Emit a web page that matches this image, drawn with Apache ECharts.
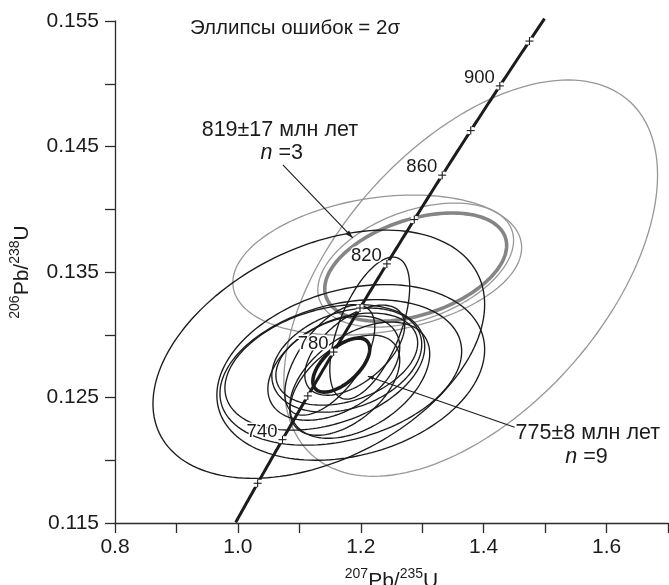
<!DOCTYPE html>
<html>
<head>
<meta charset="utf-8">
<title>U-Pb concordia</title>
<script src="https://cdn.jsdelivr.net/npm/echarts@6/dist/echarts.min.js"></script>
<style>
  html, body { margin: 0; padding: 0; background: #ffffff; }
  #chart { width: 669px; height: 585px; }
</style>
</head>
<body>
<div id="chart"></div>
<script>
// ---- Decay constants (1/yr) ----
const LAMBDA_238 = 1.55125e-10;
const LAMBDA_235 = 9.8485e-10;

// ---- Concordia: drawn age span, tick ages and labelled ages (Ma) ----
const concordiaSpan = [702, 930];
const concordiaTickAges = [720, 740, 760, 780, 800, 820, 840, 860, 880, 900, 920];
const concordiaLabelAges = [740, 780, 820, 860, 900];

// ---- Axis ticks ----
const xTicks = [0.8, 1.0, 1.2, 1.4, 1.6];
const yTicks = [0.115, 0.125, 0.135, 0.145, 0.155];

// ---- Population 775±8 Ma: 207Pb/235U, 206Pb/238U, 2σ errors, error correlation ----
const popA_x   = [1.1317, 1.1837, 1.1675, 1.1415, 1.1772, 1.1772, 1.1561, 1.2146, 1.1984, 1.1740, 1.1496, 1.1902];
const popA_y   = [0.12845, 0.12700, 0.12700, 0.12740, 0.12798, 0.12806, 0.12734, 0.13053, 0.12638, 0.12598, 0.12798, 0.12877];
const popA_sx  = [0.2699, 0.2179, 0.1967, 0.1626, 0.1220, 0.1154, 0.1073, 0.0650, 0.1138, 0.0894, 0.0732, 0.0813];
const popA_sy  = [0.00989, 0.00700, 0.00580, 0.00500, 0.00415, 0.00367, 0.00415, 0.00566, 0.00463, 0.00399, 0.00439, 0.00359];
const popA_rho = [0.40, 0.26, 0.29, 0.33, 0.30, 0.35, 0.40, 0.58, 0.45, 0.50, 0.60, 0.55];

// ---- Population 819±17 Ma ----
const popB_x   = [1.3789, 1.2268, 1.2894];
const popB_y   = [0.13451, 0.13555, 0.13555];
const popB_sx  = [0.3041, 0.2350, 0.1593];
const popB_sy  = [0.01579, 0.00558, 0.00494];
const popB_rho = [0.52, 0.25, 0.40];

// ---- Weighted-mean (concordia age) ellipses ----
const meanA = { x: 1.1683, y: 0.12758, sx: 0.0463, sy: 0.00215, rho: 0.60 };
const meanB = { x: 1.2894, y: 0.13539, sx: 0.1480, sy: 0.00431, rho: 0.40 };

const ageA = '775±8 млн лет', nA = 9;
const ageB = '819±17 млн лет', nB = 3;

// ---------------------------------------------------------------
const FONT = '"Liberation Sans", Arial, Helvetica, sans-serif';
const INK = '#1b1b1b';
const GREY = '#979797';
const GREY_MEAN = '#858585';

const r206 = t => Math.expm1(LAMBDA_238 * t * 1e6);
const r207 = t => Math.expm1(LAMBDA_235 * t * 1e6);

const concordia = [];
for (let t = concordiaSpan[0]; t <= concordiaSpan[1]; t += 1) concordia.push([r207(t), r206(t)]);

const rows = (xs, ys, sxs, sys, rs) => xs.map((_, i) => [xs[i], ys[i], sxs[i], sys[i], rs[i]]);
const meanRow = m => [[m.x, m.y, m.sx, m.sy, m.rho]];

function ellipseRenderer(color, width) {
  return function (params, api) {
    const x = api.value(0), y = api.value(1), sx = api.value(2), sy = api.value(3), r = api.value(4);
    const k = Math.sqrt(1 - r * r);
    const pts = [];
    const n = 160;
    for (let i = 0; i < n; i++) {
      const a = 2 * Math.PI * i / n;
      pts.push(api.coord([x + sx * Math.cos(a), y + sy * (r * Math.cos(a) + k * Math.sin(a))]));
    }
    return {
      type: 'polygon',
      shape: { points: pts },
      style: { fill: null, stroke: color, lineWidth: width },
      silent: true
    };
  };
}

function ellipseSeries(data, color, width, z) {
  return {
    type: 'custom', data: data, z: z, clip: true, silent: true,
    encode: { x: 0, y: 1 },
    renderItem: ellipseRenderer(color, width)
  };
}

// small filled arrowhead at p1 pointing away from p0
function arrowHead(p0, p1, len, half) {
  const dx = p1[0] - p0[0], dy = p1[1] - p0[1];
  const d = Math.hypot(dx, dy), ux = dx / d, uy = dy / d;
  const bx = p1[0] - ux * len, by = p1[1] - uy * len;
  return {
    type: 'polygon',
    shape: { points: [p1, [bx - uy * half, by + ux * half], [bx + uy * half, by - ux * half]] },
    style: { fill: INK }
  };
}

const textStyle = (text, align, size) => ({
  text: text, fill: INK, font: size + 'px ' + FONT, align: align, verticalAlign: 'middle',
  rich: { i: { fontStyle: 'italic', fontSize: size, fontFamily: FONT, fill: INK } }
});

const option = {
  backgroundColor: '#ffffff',
  animation: false,
  grid: { left: 115, right: 1, top: 21, bottom: 62, containLabel: false, outerBoundsMode: 'none' },
  graphic: [{
    type: 'text', left: 190, top: 18, silent: true,
    style: { text: 'Эллипсы ошибок = 2σ', font: '20.5px ' + FONT, fill: INK }
  }],
  xAxis: {
    type: 'value', min: 0.8, max: 1.7, interval: 0.1,
    axisLine: { show: true, onZero: false, lineStyle: { color: '#2a2a2a', width: 1.3 } },
    axisTick: { show: true, length: 10, lineStyle: { color: '#2a2a2a', width: 1.3 } },
    splitLine: { show: false },
    axisLabel: {
      margin: 14, fontSize: 21, color: INK, fontFamily: FONT, showMaxLabel: true, showMinLabel: true,
      formatter: v => xTicks.some(t => Math.abs(t - v) < 1e-6) ? v.toFixed(1) : ''
    },
    name: '{sup|207}{b|Pb/}{sup|235}{b|U}',
    nameLocation: 'middle', nameGap: 44,
    nameTextStyle: {
      color: INK, fontFamily: FONT,
      rich: {
        b: { fontSize: 21, lineHeight: 28, fontFamily: FONT, color: INK },
        sup: { fontSize: 14, lineHeight: 14, verticalAlign: 'top', fontFamily: FONT, color: INK }
      }
    }
  },
  yAxis: {
    type: 'value', min: 0.115, max: 0.155, interval: 0.005,
    axisLine: { show: true, onZero: false, lineStyle: { color: '#2a2a2a', width: 1.3 } },
    axisTick: { show: true, length: 10, lineStyle: { color: '#2a2a2a', width: 1.3 } },
    splitLine: { show: false },
    axisLabel: {
      margin: 16, fontSize: 21, color: INK, fontFamily: FONT, showMaxLabel: true, showMinLabel: true,
      formatter: v => yTicks.some(t => Math.abs(t - v) < 1e-7) ? v.toFixed(3) : ''
    },
    name: '{sup|206}{b|Pb/}{sup|238}{b|U}',
    nameLocation: 'middle', nameGap: 79, nameRotate: 90,
    nameTextStyle: {
      color: INK, fontFamily: FONT,
      rich: {
        b: { fontSize: 21, lineHeight: 28, fontFamily: FONT, color: INK },
        sup: { fontSize: 14, lineHeight: 14, verticalAlign: 'top', fontFamily: FONT, color: INK }
      }
    }
  },
  series: [
    // 819 Ma population and its mean
    ellipseSeries(rows(popB_x, popB_y, popB_sx, popB_sy, popB_rho), GREY, 1.3, 2),
    ellipseSeries(meanRow(meanB), GREY_MEAN, 3.6, 3),
    // 775 Ma population and its mean
    ellipseSeries(rows(popA_x, popA_y, popA_sx, popA_sy, popA_rho), INK, 1.35, 4),
    ellipseSeries(meanRow(meanA), INK, 3.6, 5),
    // concordia curve
    {
      type: 'line', data: concordia, z: 6, showSymbol: false, symbol: 'none', clip: false, silent: true,
      lineStyle: { color: INK, width: 3 }
    },
    // age ticks on the concordia
    {
      type: 'custom', z: 7, silent: true, clip: false,
      data: concordiaTickAges.map(t => [r207(t), r206(t)]),
      encode: { x: 0, y: 1 },
      renderItem: (params, api) => {
        const p = api.coord([api.value(0), api.value(1)]);
        const h = 4;
        return {
          type: 'group',
          children: [
            { type: 'rect', shape: { x: p[0] - 3.5, y: p[1] - 3.5, width: 7, height: 7 }, style: { fill: '#ffffff' } },
            { type: 'line', shape: { x1: p[0] - h, y1: p[1], x2: p[0] + h, y2: p[1] }, style: { stroke: INK, lineWidth: 1.1 } },
            { type: 'line', shape: { x1: p[0], y1: p[1] - h, x2: p[0], y2: p[1] + h }, style: { stroke: INK, lineWidth: 1.1 } }
          ]
        };
      }
    },
    // age labels
    {
      type: 'custom', z: 8, silent: true, clip: false,
      data: concordiaLabelAges.map(t => [r207(t), r206(t), t]),
      encode: { x: 0, y: 1 },
      renderItem: (params, api) => {
        const p = api.coord([api.value(0), api.value(1)]);
        return {
          type: 'text', x: p[0] - 5, y: p[1] - 8,
          style: {
            text: String(api.value(2)), font: '18.5px ' + FONT, fill: INK,
            align: 'right', verticalAlign: 'middle', stroke: '#ffffff', lineWidth: 3
          }
        };
      }
    },
    // annotations with leader arrows
    {
      type: 'custom', z: 9, silent: true, clip: false,
      data: [[0]],
      renderItem: (params, api) => {
        const c = (x, y) => api.coord([x, y]);
        const a0 = c(1.0732, 0.14353), a1 = c(1.1870, 0.13771);
        const b0 = c(1.4504, 0.12263), b1 = c(1.2114, 0.12670);
        const tB1 = c(1.0683, 0.14632), tB2 = c(1.0715, 0.14448);
        const tA1 = c(1.4520, 0.12215), tA2 = c(1.5675, 0.12024);
        return {
          type: 'group',
          children: [
            { type: 'line', shape: { x1: a0[0], y1: a0[1], x2: a1[0], y2: a1[1] }, style: { stroke: INK, lineWidth: 1.1 } },
            arrowHead(a0, a1, 8, 2.6),
            { type: 'line', shape: { x1: b0[0], y1: b0[1], x2: b1[0], y2: b1[1] }, style: { stroke: INK, lineWidth: 1.1 } },
            arrowHead(b0, b1, 6, 2.0),
            { type: 'text', x: tB1[0], y: tB1[1], style: textStyle(ageB, 'center', 21.5) },
            { type: 'text', x: tB2[0], y: tB2[1], style: textStyle('{i|n} =' + nB, 'center', 21.5) },
            { type: 'text', x: tA1[0], y: tA1[1], style: textStyle(ageA, 'left', 21.5) },
            { type: 'text', x: tA2[0], y: tA2[1], style: textStyle('{i|n} =' + nA, 'center', 21.5) }
          ]
        };
      }
    }
  ]
};

const chart = echarts.init(document.getElementById('chart'));
chart.setOption(option);
</script>
</body>
</html>
